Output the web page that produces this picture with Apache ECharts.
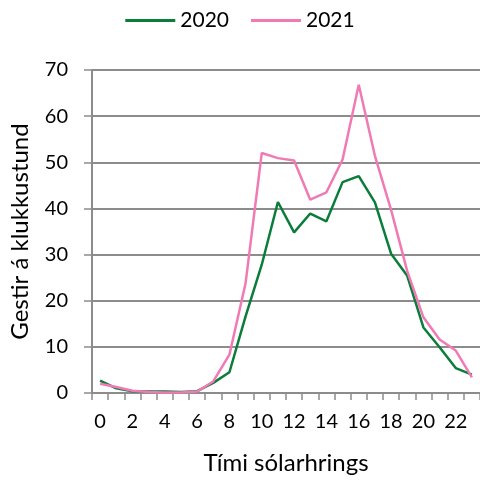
<!DOCTYPE html>
<html><head><meta charset="utf-8">
<script src="https://cdn.jsdelivr.net/npm/echarts@6/dist/echarts.min.js"></script>
<style>html,body{margin:0;padding:0;background:#fff}#c{width:480px;height:481px}</style>
</head><body><div id="c"></div>
<script>
const hours = ['0','1','2','3','4','5','6','7','8','9','10','11','12','13','14','15','16','17','18','19','20','21','22','23'];
const v2020 = [2.7,1.0,0.4,0.3,0.3,0.2,0.4,2.2,4.5,16.6,27.8,41.4,34.8,38.9,37.2,45.7,47.0,41.3,30.2,25.4,14.2,9.9,5.4,4.0];
const v2021 = [2.0,1.3,0.5,0.2,0.1,0.1,0.3,2.5,8.3,23.8,52.0,50.9,50.4,41.9,43.5,50.6,66.8,51.4,39.7,26.4,16.4,11.6,9.2,3.4];
const FONT = 'Lato';
const chart = echarts.init(document.getElementById('c'));
chart.setOption({
  animation: false,
  textStyle: {fontFamily: FONT},
  legend: {
    top: 5, left: 'center', itemWidth: 50, itemHeight: 3, itemGap: 22,
    icon: 'rect',
    textStyle: {fontSize: 21, color: '#000', fontFamily: FONT},
    data: ['2020','2021']
  },
  grid: {left: 92, right: -2, top: 70, bottom: 88},
  xAxis: {
    type: 'category', data: hours, boundaryGap: true,
    name: 'Tími sólarhrings', nameLocation: 'middle', nameGap: 58,
    nameTextStyle: {fontSize: 24, color: '#000', fontFamily: FONT},
    axisLine: {lineStyle: {color: '#8c8c8c', width: 2}},
    axisTick: {show: true, interval: 0, length: 7, lineStyle: {color: '#8c8c8c', width: 1.5}},
    axisLabel: {interval: 1, fontSize: 20, color: '#000', margin: 19, fontFamily: FONT}
  },
  yAxis: {
    type: 'value', min: 0, max: 70, interval: 10,
    name: 'Gestir á klukkustund', nameLocation: 'middle', nameGap: 60,
    nameTextStyle: {fontSize: 24, color: '#000', fontFamily: FONT},
    axisLine: {show: true, lineStyle: {color: '#8c8c8c', width: 2}},
    axisTick: {show: true, length: 8, lineStyle: {color: '#8c8c8c', width: 1.5}},
    axisLabel: {fontSize: 20, color: '#000', margin: 24, fontFamily: FONT},
    splitLine: {lineStyle: {color: '#8c8c8c', width: 2}}
  },
  series: [
    {name: '2020', type: 'line', data: v2020, symbol: 'none', lineStyle: {color: '#0a7d3a', width: 2.5}, itemStyle: {color: '#0a7d3a'}},
    {name: '2021', type: 'line', data: v2021, symbol: 'none', lineStyle: {color: '#f07ab4', width: 2.5}, itemStyle: {color: '#f07ab4'}}
  ]
});
</script></body></html>
